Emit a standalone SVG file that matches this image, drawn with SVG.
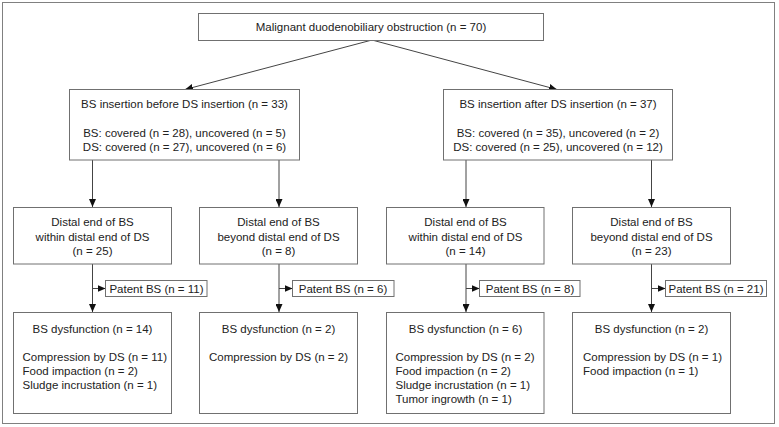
<svg xmlns="http://www.w3.org/2000/svg" width="779" height="427" viewBox="0 0 779 427">
<defs>
<style>
.box{fill:#fff;stroke:#707070;stroke-width:1}
.frame{fill:#fff;stroke:#808080;stroke-width:1}
.t{font-family:"Liberation Sans",Arial,sans-serif;font-size:11.5px;fill:#222}
.c{text-anchor:middle}
.conn{stroke:#444;stroke-width:1;fill:none;marker-end:url(#ah)}
</style>
<marker id="ah" markerUnits="userSpaceOnUse" markerWidth="8" markerHeight="7" refX="8" refY="3.5" orient="auto">
<path d="M0,0 L8,3.5 L0,7 z" fill="#111"/>
</marker>
</defs>
<rect class="frame" x="2.5" y="2.5" width="772" height="421"/>
<g id="connectors">
<line class="conn" x1="372" y1="40" x2="185" y2="89.5"/>
<line class="conn" x1="372" y1="40" x2="557" y2="89.5"/>
<line class="conn" x1="92.5" y1="160" x2="92.5" y2="207"/>
<line class="conn" x1="279" y1="160" x2="279" y2="207"/>
<line class="conn" x1="466" y1="160" x2="466" y2="207"/>
<line class="conn" x1="651.5" y1="160" x2="651.5" y2="207"/>
<line class="conn" x1="92.5" y1="264" x2="92.5" y2="312"/>
<line class="conn" x1="279" y1="264" x2="279" y2="312"/>
<line class="conn" x1="466" y1="264" x2="466" y2="312"/>
<line class="conn" x1="651.5" y1="264" x2="651.5" y2="312"/>
<line class="conn" x1="92.5" y1="288.5" x2="105.5" y2="288.5"/>
<line class="conn" x1="279" y1="288.5" x2="292.5" y2="288.5"/>
<line class="conn" x1="466" y1="288.5" x2="479.5" y2="288.5"/>
<line class="conn" x1="651.5" y1="288.5" x2="665.5" y2="288.5"/>
</g>
<g id="n0">
<rect class="box" x="198.5" y="13.5" width="345" height="27"/>
<text class="t c" x="371" y="31">Malignant duodenobiliary obstruction (n = 70)</text>
</g>
<g id="n1">
<rect class="box" x="69.5" y="89.5" width="230" height="70.5"/>
<text class="t c" x="184.5" y="108">BS insertion before DS insertion (n = 33)</text>
<text class="t c" x="184.5" y="136.5">BS: covered (n = 28), uncovered (n = 5)</text>
<text class="t c" x="184.5" y="150.5">DS: covered (n = 27), uncovered (n = 6)</text>
</g>
<g id="n2">
<rect class="box" x="443.5" y="89.5" width="229" height="70.5"/>
<text class="t c" x="558" y="108">BS insertion after DS insertion (n = 37)</text>
<text class="t c" x="558" y="136.5">BS: covered (n = 35), uncovered (n = 2)</text>
<text class="t c" x="558" y="150.5">DS: covered (n = 25), uncovered (n = 12)</text>
</g>
<g id="n3">
<rect class="box" x="13.5" y="207.5" width="158" height="56.5"/>
<text class="t c" x="92.5" y="226">Distal end of BS</text>
<text class="t c" x="92.5" y="240.5">within distal end of DS</text>
<text class="t c" x="92.5" y="255">(n = 25)</text>
</g>
<g id="n4">
<rect class="box" x="199.5" y="207.5" width="158" height="56.5"/>
<text class="t c" x="278.5" y="226">Distal end of BS</text>
<text class="t c" x="278.5" y="240.5">beyond distal end of DS</text>
<text class="t c" x="278.5" y="255">(n = 8)</text>
</g>
<g id="n5">
<rect class="box" x="386.5" y="207.5" width="157.5" height="56.5"/>
<text class="t c" x="465.5" y="226">Distal end of BS</text>
<text class="t c" x="465.5" y="240.5">within distal end of DS</text>
<text class="t c" x="465.5" y="255">(n = 14)</text>
</g>
<g id="n6">
<rect class="box" x="572.5" y="207.5" width="158" height="56.5"/>
<text class="t c" x="651.5" y="226">Distal end of BS</text>
<text class="t c" x="651.5" y="240.5">beyond distal end of DS</text>
<text class="t c" x="651.5" y="255">(n = 23)</text>
</g>
<g id="p1">
<rect class="box" x="105.5" y="280.5" width="101.5" height="16"/>
<text class="t c" x="156.5" y="292.5">Patent BS (n = 11)</text>
</g>
<g id="p2">
<rect class="box" x="292.5" y="280.5" width="101.5" height="16"/>
<text class="t c" x="343" y="292.5">Patent BS (n = 6)</text>
</g>
<g id="p3">
<rect class="box" x="479.5" y="280.5" width="100.5" height="16"/>
<text class="t c" x="530" y="292.5">Patent BS (n = 8)</text>
</g>
<g id="p4">
<rect class="box" x="665.5" y="280.5" width="101" height="16"/>
<text class="t c" x="716" y="292.5">Patent BS (n = 21)</text>
</g>
<g id="d1">
<rect class="box" x="13.5" y="312.5" width="158" height="101"/>
<text class="t c" x="92.5" y="332.5">BS dysfunction (n = 14)</text>
<text class="t" x="22.5" y="360.5">Compression by DS (n = 11)</text>
<text class="t" x="22.5" y="374.5">Food impaction (n = 2)</text>
<text class="t" x="22.5" y="388.5">Sludge incrustation (n = 1)</text>
</g>
<g id="d2">
<rect class="box" x="199.5" y="312.5" width="158" height="101"/>
<text class="t c" x="278.5" y="332.5">BS dysfunction (n = 2)</text>
<text class="t" x="209" y="360.5">Compression by DS (n = 2)</text>
</g>
<g id="d3">
<rect class="box" x="386.5" y="312.5" width="157.5" height="101"/>
<text class="t c" x="465.5" y="332.5">BS dysfunction (n = 6)</text>
<text class="t" x="395.5" y="360.5">Compression by DS (n = 2)</text>
<text class="t" x="395.5" y="374.5">Food impaction (n = 2)</text>
<text class="t" x="395.5" y="388.5">Sludge incrustation (n = 1)</text>
<text class="t" x="395.5" y="402.5">Tumor ingrowth (n = 1)</text>
</g>
<g id="d4">
<rect class="box" x="572.5" y="312.5" width="158" height="101"/>
<text class="t c" x="651.5" y="332.5">BS dysfunction (n = 2)</text>
<text class="t" x="583" y="360.5">Compression by DS (n = 1)</text>
<text class="t" x="583" y="374.5">Food impaction (n = 1)</text>
</g>
</svg>
